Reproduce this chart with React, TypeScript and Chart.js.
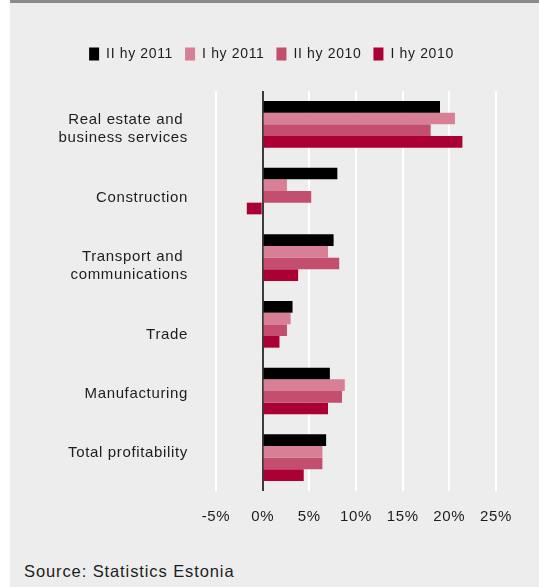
import React, { useEffect, useRef } from "react";
import { Chart, registerables } from "chart.js";

Chart.register(...registerables);

const categories: (string | string[])[] = [
  ["Real estate and ", "business services"],
  "Construction",
  ["Transport and ", "communications"],
  "Trade",
  "Manufacturing",
  "Total profitability",
];

const seriesNames = ["II hy 2011", "I hy 2011", "II hy 2010", "I hy 2010"];
const iiHy2011 = [19.0, 8.0, 7.6, 3.2, 7.2, 6.8];
const iHy2011 = [20.6, 2.6, 7.0, 3.0, 8.8, 6.4];
const iiHy2010 = [18.0, 5.2, 8.2, 2.6, 8.5, 6.4];
const iHy2010 = [21.4, -1.7, 3.8, 1.8, 7.0, 4.4];
const seriesColors = ["#000000", "#d87f96", "#c44e6e", "#aa0033"];

const xMin = -5;
const xMax = 25;
const xStep = 5;

// vertical nudge of each category label relative to its band centre (as in the original layout)
const labelNudge = [5, 7, 8, 11, 3, -5];

const FONT = "'Liberation Sans', Arial, Helvetica, sans-serif";
const TEXT = "#1d1d1d";
const SPACING = "0.65px";

export default function App() {
  const ref = useRef<HTMLCanvasElement | null>(null);

  useEffect(() => {
    if (!ref.current) return;
    const spacing = {
      id: "spacing",
      beforeUpdate(chart: any) { chart.ctx.letterSpacing = SPACING; },
      beforeLayout(chart: any) { chart.ctx.letterSpacing = SPACING; },
      beforeDraw(chart: any) { chart.ctx.letterSpacing = SPACING; },
    };
    const legendSpacer = {
      id: "legendSpacer",
      beforeInit(chart: any) {
        const lg = chart.legend;
        if (!lg) return;
        const orig = lg.fit;
        lg.fit = function () {
          orig.call(this);
          this.height += 20;
        };
      },
    };
    const categoryLabels = {
      id: "categoryLabels",
      afterDraw(chart: any) {
        const ctx = chart.ctx;
        const ys = chart.scales.y;
        const area = chart.chartArea;
        ctx.save();
        ctx.letterSpacing = SPACING;
        ctx.font = `15px ${FONT}`;
        ctx.fillStyle = TEXT;
        ctx.textAlign = "right";
        ctx.textBaseline = "middle";
        const lineH = 18;
        categories.forEach((lab, i) => {
          const lines = Array.isArray(lab) ? lab : [lab];
          const cy = ys.getPixelForTick(i) + (labelNudge[i] ?? 0);
          lines.forEach((ln, j) => {
            const y = cy + (j - (lines.length - 1) / 2) * lineH;
            ctx.fillText(ln, area.left - 28, y);
          });
        });
        ctx.restore();
      },
    };
    const values = [iiHy2011, iHy2011, iiHy2010, iHy2010];
    const chart: any = new Chart(ref.current, {
      type: "bar",
      data: {
        labels: categories,
        datasets: seriesNames.map((name, i) => ({
          label: name,
          data: values[i],
          backgroundColor: seriesColors[i],
          borderWidth: 0,
          categoryPercentage: 0.7,
          barPercentage: 1.0,
        })),
      },
      options: {
        indexAxis: "y",
        animation: false,
        responsive: true,
        maintainAspectRatio: false,
        layout: { padding: { left: 37, right: 43, top: 32, bottom: 10 } },
        plugins: {
          tooltip: { enabled: false },
          legend: {
            position: "top",
            align: "center",
            labels: {
              boxWidth: 10,
              boxHeight: 13,
              padding: 12,
              color: TEXT,
              font: { family: FONT, size: 14 },
            },
          },
        },
        scales: {
          x: {
            min: xMin,
            max: xMax,
            border: { display: false },
            grid: {
              drawTicks: false,
              lineWidth: 2,
              color: (ctx: any) => (ctx.tick && ctx.tick.value === 0 ? "#3c3c3c" : "#ffffff"),
            },
            ticks: {
              stepSize: xStep,
              padding: 17,
              color: TEXT,
              font: { family: FONT, size: 15 },
              callback: (v: any) => v + "%",
            },
          },
          y: {
            border: { display: false },
            grid: { display: false, drawTicks: false },
            ticks: {
              display: false,
              padding: 28,
              font: { family: FONT, size: 15 },
            },
            afterFit: (scale: any) => {
              scale.width = 169;
            },
          },
        },
      },
      plugins: [spacing, legendSpacer, categoryLabels],
    } as any);
    return () => chart.destroy();
  }, []);

  return (
    <div style={{ position: "absolute", left: 0, top: 0, width: 539, height: 587, background: "#ffffff", overflow: "hidden" }}>
      <div
        style={{
          position: "absolute",
          left: 10,
          top: 0,
          width: 529,
          height: 587,
          background: "#ecedec",
          borderTop: "3px solid #8b8b8b",
          boxSizing: "border-box",
        }}
      />
      <div style={{ position: "absolute", left: 10, top: 3, width: 529, height: 550 }}>
        <canvas ref={ref} />
      </div>
      <div
        style={{
          position: "absolute",
          left: 24,
          top: 561,
          fontFamily: FONT,
          fontSize: 16.5,
          lineHeight: "20px",
          letterSpacing: "0.9px",
          color: TEXT,
          whiteSpace: "nowrap",
        }}
      >
        Source: Statistics Estonia
      </div>
    </div>
  );
}
